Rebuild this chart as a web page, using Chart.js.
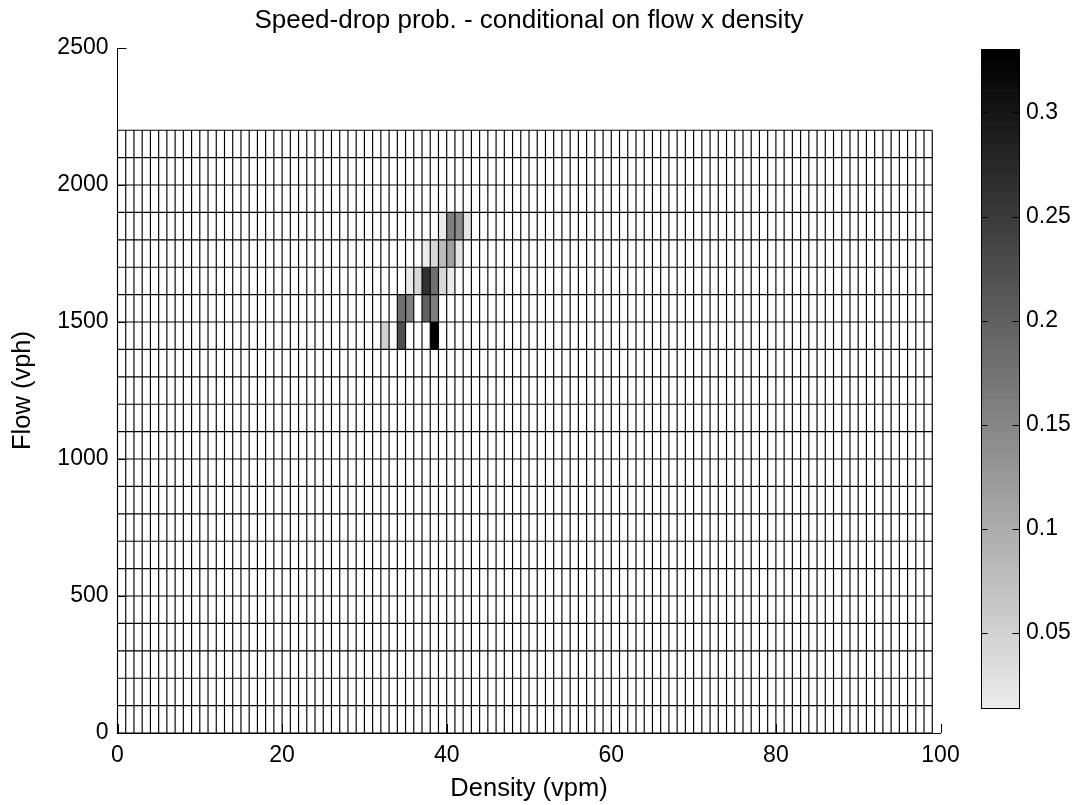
<!DOCTYPE html>
<html><head><meta charset="utf-8">
<script src="https://cdn.jsdelivr.net/npm/chart.js@4.4.0/dist/chart.umd.min.js"></script>
<style>
html,body{margin:0;padding:0;background:#fff;overflow:hidden}
#wrap{position:relative;width:1079px;height:805px;background:#fff}
canvas{position:absolute;top:0}
</style></head><body>
<div id="wrap">
<canvas id="main" width="1079" height="805" style="left:0"></canvas>
<canvas id="cb" width="139" height="805" style="left:940px"></canvas>
</div>
<script>
// pcolor grid edges (density bins of 1 vpm, flow bins of 100 vph)
const densityEdges = [0,1,2,3,4,5,6,7,8,9,10,11,12,13,14,15,16,17,18,19,20,21,22,23,24,25,26,27,28,29,30,31,32,33,34,35,36,37,38,39,40,41,42,43,44,45,46,47,48,49,50,51,52,53,54,55,56,57,58,59,60,61,62,63,64,65,66,67,68,69,70,71,72,73,74,75,76,77,78,79,80,81,82,83,84,85,86,87,88,89,90,91,92,93,94,95,96,97,98,99];
const flowEdges = [0,100,200,300,400,500,600,700,800,900,1000,1100,1200,1300,1400,1500,1600,1700,1800,1900,2000,2100,2200];

// non-zero cells (lower-left corner density, flow) and probability
const cellDensity = [32,34,38, 34,35,37,38, 35,36,37,38,39,40, 37,38,39,40,41, 39,40,41,42];
const cellFlow    = [1400,1400,1400, 1500,1500,1500,1500, 1600,1600,1600,1600,1600,1600, 1700,1700,1700,1700,1700, 1800,1800,1800,1800];
const cellProb    = [0.050,0.223,0.330, 0.180,0.158,0.201,0.158, 0.018,0.039,0.266,0.180,0.039,0.015, 0.015,0.039,0.083,0.115,0.028, 0.018,0.158,0.145,0.028];

const xTicks = [0,20,40,60,80,100];
const yTicks = [0,500,1000,1500,2000,2500];
const cbTicks = [0.05,0.1,0.15,0.2,0.25,0.3];
const cbTickLabels = ['0.05','0.1','0.15','0.2','0.25','0.3'];
const cMin = 0.0138, cMax = 0.3305;

const FONT = "'Liberation Sans', Arial, Helvetica, sans-serif";
const FS = 23;     // tick labels
const FL = 25.5;   // axis labels
const FT = 26;     // title

function grayFor(v){
  let idx = Math.floor((v - cMin) / (cMax - cMin) * 64);
  idx = Math.max(0, Math.min(63, idx));
  const g = Math.round(235 * (63 - idx) / 63);
  return 'rgb(' + g + ',' + g + ',' + g + ')';
}

const gridPlugin = {
  id: 'pcolorGrid',
  beforeDatasetsDraw(chart){
    const ctx = chart.ctx, xs = chart.scales.x, ys = chart.scales.y;
    const ca = chart.chartArea;
    ctx.save();
    for (let i = 0; i < cellProb.length; i++){
      const x0 = xs.getPixelForValue(cellDensity[i]);
      const x1 = xs.getPixelForValue(cellDensity[i] + 1);
      const y0 = ys.getPixelForValue(cellFlow[i]);
      const y1 = ys.getPixelForValue(cellFlow[i] + 100);
      ctx.fillStyle = grayFor(cellProb[i]);
      ctx.fillRect(x0, y1, x1 - x0, y0 - y1);
    }
    ctx.strokeStyle = '#000';
    ctx.lineWidth = 1.15;
    const xFirst = xs.getPixelForValue(densityEdges[0]);
    const xLast = xs.getPixelForValue(densityEdges[densityEdges.length - 1]);
    const yFirst = ys.getPixelForValue(flowEdges[0]);
    const yLast = ys.getPixelForValue(flowEdges[flowEdges.length - 1]);
    ctx.beginPath();
    densityEdges.forEach(d => {
      const px = xs.getPixelForValue(d);
      ctx.moveTo(px, yFirst); ctx.lineTo(px, yLast);
    });
    flowEdges.forEach(f => {
      const py = ys.getPixelForValue(f);
      ctx.moveTo(xFirst, py); ctx.lineTo(xLast, py);
    });
    ctx.stroke();
    ctx.lineWidth = 1;
    ctx.beginPath();
    yTicks.forEach(t => {
      const py = Math.round(ys.getPixelForValue(t)) + 0.5;
      ctx.moveTo(ca.left, py); ctx.lineTo(ca.left + 9, py);
    });
    xTicks.forEach(t => {
      const px = Math.round(xs.getPixelForValue(t)) + 0.5;
      ctx.moveTo(px, ca.bottom); ctx.lineTo(px, ca.bottom - 9);
    });
    ctx.stroke();
    ctx.restore();
  }
};

new Chart(document.getElementById('main'), {
  type: 'scatter',
  data: { datasets: [{ data: cellProb.map((v, i) => ({ x: cellDensity[i] + 0.5, y: cellFlow[i] + 50 })), pointRadius: 0 }] },
  options: {
    responsive: false, maintainAspectRatio: false, animation: false,
    layout: { padding: { left: 0, right: 138.5, top: 0, bottom: 0 } },
    plugins: {
      legend: { display: false }, tooltip: { enabled: false },
      title: { display: true, fullSize: false, text: 'Speed-drop prob. - conditional on flow x density', color: '#000',
               font: { family: FONT, size: FT, weight: 'normal' }, padding: { top: 4.8, bottom: 12 } }
    },
    scales: {
      x: {
        type: 'linear', min: 0, max: 100,
        grid: { display: false, drawTicks: false },
        border: { display: true, color: '#000', width: 1 },
        ticks: { color: '#000', font: { family: FONT, size: FS }, padding: 9, maxRotation: 0,
                 callback: v => String(v) },
        afterBuildTicks: s => { s.ticks = xTicks.map(v => ({ value: v })); },
        afterFit: s => { s.height = 72; },
        title: { display: true, text: 'Density (vpm)', color: '#000', font: { family: FONT, size: FL }, padding: { top: 0, bottom: 1 } }
      },
      y: {
        type: 'linear', min: 0, max: 2500,
        grid: { display: false, drawTicks: false },
        border: { display: true, color: '#000', width: 1 },
        ticks: { color: '#000', font: { family: FONT, size: FS }, padding: 9,
                 callback: v => String(v) },
        afterBuildTicks: s => { s.ticks = yTicks.map(v => ({ value: v })); },
        afterFit: s => { s.width = 117.5; },
        title: { display: true, text: 'Flow (vph)', color: '#000', font: { family: FONT, size: FL }, padding: { top: 7.5, bottom: 0 } }
      }
    }
  },
  plugins: [gridPlugin]
});

const cbPlugin = {
  id: 'colorbar',
  beforeDatasetsDraw(chart){
    const ctx = chart.ctx, ys = chart.scales.y, ca = chart.chartArea;
    ctx.save();
    for (let k = 0; k < 64; k++){
      const v0 = cMin + k * (cMax - cMin) / 64;
      const v1 = cMin + (k + 1) * (cMax - cMin) / 64;
      const y0 = ys.getPixelForValue(v0), y1 = ys.getPixelForValue(v1);
      const g = Math.round(235 * (63 - k) / 63);
      ctx.fillStyle = 'rgb(' + g + ',' + g + ',' + g + ')';
      ctx.fillRect(ca.left, y1, ca.right - ca.left, y0 - y1 + 0.6);
    }
    ctx.strokeStyle = '#000';
    ctx.lineWidth = 1;
    ctx.strokeRect(Math.round(ca.left) + 0.5, Math.round(ca.top) + 0.5, Math.round(ca.right - ca.left), Math.round(ca.bottom - ca.top));
    ctx.beginPath();
    cbTicks.forEach(t => {
      const py = Math.round(ys.getPixelForValue(t)) + 0.5;
      ctx.moveTo(ca.left, py); ctx.lineTo(ca.left + 6.5, py);
      ctx.moveTo(ca.right, py); ctx.lineTo(ca.right - 6.5, py);
    });
    ctx.stroke();
    ctx.restore();
  }
};

new Chart(document.getElementById('cb'), {
  type: 'scatter',
  data: { datasets: [{ data: [], pointRadius: 0 }] },
  options: {
    responsive: false, maintainAspectRatio: false, animation: false,
    layout: { padding: { left: 41, top: 49, bottom: 97, right: 0 } },
    plugins: { legend: { display: false }, tooltip: { enabled: false }, title: { display: false } },
    scales: {
      x: { type: 'linear', display: false, min: 0, max: 1 },
      y: {
        type: 'linear', position: 'right', min: cMin, max: cMax,
        grid: { display: false, drawTicks: false },
        border: { display: false },
        ticks: { color: '#000', font: { family: FONT, size: FS }, padding: 7,
                 callback: v => { const i = cbTicks.indexOf(v); return i >= 0 ? cbTickLabels[i] : ''; } },
        afterBuildTicks: s => { s.ticks = cbTicks.map(v => ({ value: v })); },
        afterFit: s => { s.width = 60; }
      }
    }
  },
  plugins: [cbPlugin]
});
</script>
</body></html>
